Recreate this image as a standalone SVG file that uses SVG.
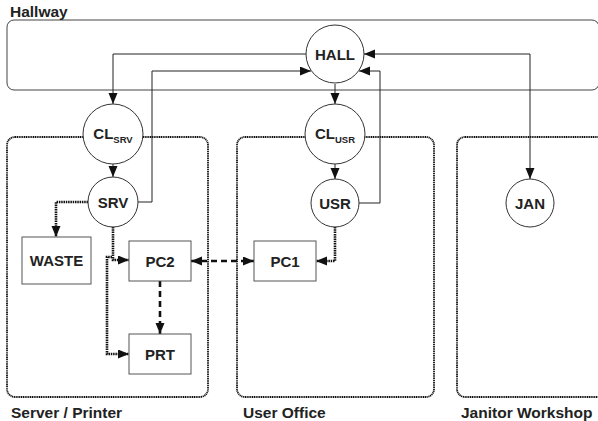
<svg xmlns="http://www.w3.org/2000/svg" width="598" height="421" viewBox="0 0 598 421">
<defs>
<marker id="ah" markerUnits="userSpaceOnUse" markerWidth="12" markerHeight="10" refX="11" refY="4.5" orient="auto-start-reverse">
<path d="M0,0 L11,4.5 L0,9 Z" fill="#111"/>
</marker>
<style>
.room{fill:none;stroke:#111;stroke-width:1.8;stroke-dasharray:1.2,0.6}
.hall{fill:none;stroke:#444;stroke-width:1}
.node{fill:#fff;stroke:#333;stroke-width:1}
.box{fill:#fff;stroke:#555;stroke-width:1}
.lbl{font-family:"Liberation Sans",Arial,sans-serif;font-weight:bold;font-size:15.5px;fill:#222}
.nl{font-family:"Liberation Sans",Arial,sans-serif;font-weight:bold;font-size:15px;fill:#222;text-anchor:middle}
.sub{font-size:9.5px}
.ln{fill:none;stroke:#222;stroke-width:1}
.dot{fill:none;stroke:#111;stroke-width:2.6;stroke-dasharray:1.5,0.8}
.dash{fill:none;stroke:#111;stroke-width:2.6;stroke-dasharray:6,4}
</style>
</defs>
<rect x="0" y="0" width="598" height="421" fill="#fff"/>
<g id="hallway">
<rect class="hall" x="7" y="20" width="592" height="70" rx="7"/>
<text class="lbl" x="10" y="16.5">Hallway</text>
</g>
<g id="room-server">
<rect class="room" x="7" y="137" width="201" height="260" rx="8"/>
<text class="lbl" x="11" y="418">Server / Printer</text>
</g>
<g id="room-user">
<rect class="room" x="237" y="137" width="197" height="260" rx="8"/>
<text class="lbl" x="243" y="418">User Office</text>
</g>
<g id="room-janitor">
<rect class="room" x="457" y="137" width="160" height="260" rx="8"/>
<text class="lbl" x="461" y="418">Janitor Workshop</text>
</g>
<g id="connectors">
<path class="ln" d="M306,54 H113 V104" marker-end="url(#ah)"/>
<path class="ln" d="M335,84 V104" marker-end="url(#ah)"/>
<path class="ln" d="M113,164 V177" marker-end="url(#ah)"/>
<path class="ln" d="M335,164 V179" marker-end="url(#ah)"/>
<path class="ln" d="M138,202 H152 V71 H311" marker-end="url(#ah)"/>
<path class="ln" d="M359,203 H380 V71 H359" marker-end="url(#ah)"/>
<path class="ln" d="M364,54 H530 V179" marker-start="url(#ah)" marker-end="url(#ah)"/>
<path class="dot" d="M88,202 H56 V237" marker-end="url(#ah)"/>
<path class="dot" d="M113,227 V260 H129" marker-end="url(#ah)"/>
<path class="dot" d="M112,257 H107 V354 H129" marker-end="url(#ah)"/>
<path class="dot" d="M335,227 V261 H316" marker-end="url(#ah)"/>
<path class="dash" d="M160,281 V334" marker-end="url(#ah)"/>
<path class="dash" d="M191,261 H254" marker-start="url(#ah)" marker-end="url(#ah)"/>
</g>
<g id="HALL">
<circle class="node" cx="335" cy="54" r="29"/>
<text class="nl" x="335" y="59.5">HALL</text>
</g>
<g id="CL_SRV">
<circle class="node" cx="113" cy="134" r="30"/>
<text class="nl" x="113" y="139">CL<tspan class="sub" dy="4">SRV</tspan></text>
</g>
<g id="CL_USR">
<circle class="node" cx="335" cy="134" r="30"/>
<text class="nl" x="335" y="139">CL<tspan class="sub" dy="4">USR</tspan></text>
</g>
<g id="SRV">
<circle class="node" cx="113" cy="202" r="25"/>
<text class="nl" x="113" y="207.5">SRV</text>
</g>
<g id="USR">
<circle class="node" cx="335" cy="203" r="24"/>
<text class="nl" x="335" y="208.5">USR</text>
</g>
<g id="JAN">
<circle class="node" cx="530" cy="203" r="24"/>
<text class="nl" x="530" y="208.5">JAN</text>
</g>
<g id="WASTE">
<rect class="box" x="22" y="237" width="69" height="47"/>
<text class="nl" x="56.5" y="266">WASTE</text>
</g>
<g id="PC2">
<rect class="box" x="129" y="241" width="62" height="40"/>
<text class="nl" x="160" y="266.5">PC2</text>
</g>
<g id="PRT">
<rect class="box" x="129" y="334" width="62" height="40"/>
<text class="nl" x="160" y="359.5">PRT</text>
</g>
<g id="PC1">
<rect class="box" x="254" y="241" width="62" height="40"/>
<text class="nl" x="285" y="266.5">PC1</text>
</g>
</svg>
